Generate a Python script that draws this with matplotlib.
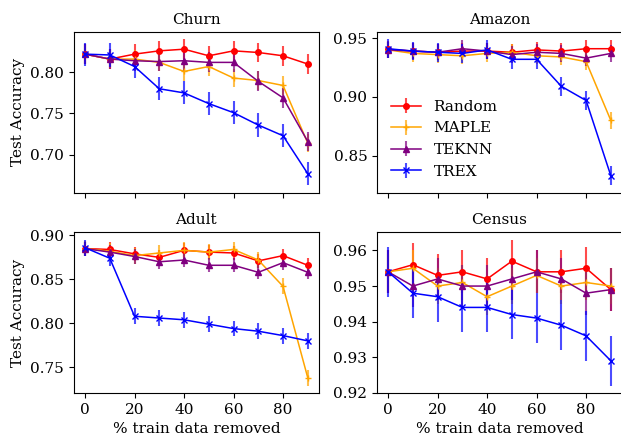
import matplotlib
matplotlib.use("Agg")
import matplotlib.pyplot as plt

plt.rcParams['font.family'] = 'DejaVu Serif'
plt.rcParams['font.size'] = 11

x = [0, 10, 20, 30, 40, 50, 60, 70, 80, 90]
methods = ["Random", "MAPLE", "TEKNN", "TREX"]
colors = ["red", "orange", "purple", "blue"]
markers = ["o", "+", "^", "x"]

churn_random = [0.822, 0.816, 0.822, 0.826, 0.828, 0.820, 0.826, 0.824, 0.820, 0.810]
churn_maple = [0.822, 0.816, 0.816, 0.812, 0.801, 0.807, 0.793, 0.790, 0.784, 0.714]
churn_teknn = [0.822, 0.816, 0.814, 0.813, 0.814, 0.812, 0.812, 0.789, 0.769, 0.716]
churn_trex = [0.822, 0.821, 0.807, 0.780, 0.775, 0.762, 0.751, 0.736, 0.723, 0.677]
churn_err = [0.012, 0.011, 0.012, 0.014]

amazon_random = [0.9405, 0.939, 0.938, 0.939, 0.939, 0.938, 0.940, 0.939, 0.941, 0.941]
amazon_maple = [0.940, 0.937, 0.936, 0.935, 0.937, 0.938, 0.935, 0.934, 0.930, 0.880]
amazon_teknn = [0.940, 0.939, 0.938, 0.941, 0.939, 0.936, 0.938, 0.937, 0.933, 0.937]
amazon_trex = [0.941, 0.939, 0.938, 0.937, 0.940, 0.932, 0.932, 0.909, 0.897, 0.833]
amazon_err = [0.007, 0.007, 0.007, 0.008]

adult_random = [0.885, 0.884, 0.879, 0.875, 0.883, 0.881, 0.880, 0.871, 0.877, 0.866]
adult_maple = [0.885, 0.882, 0.877, 0.880, 0.883, 0.881, 0.884, 0.872, 0.842, 0.738]
adult_teknn = [0.885, 0.881, 0.876, 0.870, 0.872, 0.866, 0.866, 0.858, 0.869, 0.858]
adult_trex = [0.886, 0.874, 0.808, 0.806, 0.804, 0.799, 0.794, 0.791, 0.786, 0.780]
adult_err = [0.008, 0.009, 0.008, 0.009]

census_random = [0.954, 0.956, 0.953, 0.954, 0.952, 0.957, 0.954, 0.954, 0.955, 0.949]
census_maple = [0.954, 0.955, 0.950, 0.951, 0.947, 0.950, 0.953, 0.950, 0.951, 0.950]
census_teknn = [0.954, 0.950, 0.952, 0.950, 0.950, 0.952, 0.954, 0.952, 0.948, 0.949]
census_trex = [0.954, 0.948, 0.947, 0.944, 0.944, 0.942, 0.941, 0.939, 0.936, 0.929]
census_err = [0.006, 0.005, 0.006, 0.007]

panels = [
    ("Churn", [churn_random, churn_maple, churn_teknn, churn_trex], churn_err),
    ("Amazon", [amazon_random, amazon_maple, amazon_teknn, amazon_trex], amazon_err),
    ("Adult", [adult_random, adult_maple, adult_teknn, adult_trex], adult_err),
    ("Census", [census_random, census_maple, census_teknn, census_trex], census_err),
]

fig, axes = plt.subplots(2, 2, figsize=(6.21, 4.36), dpi=100, sharex=True)
fig.subplots_adjust(left=0.119, right=1.0016, top=0.9266, bottom=0.0986,
                    wspace=0.237, hspace=0.249)

for ax, (name, series, errs) in zip(axes.flat, panels):
    for label, ys, err, c, m in zip(methods, series, errs, colors, markers):
        line, caps, bars = ax.errorbar(x, ys, yerr=err, color=c, marker=m,
                                       markersize=4, linewidth=1.1,
                                       elinewidth=1.5, label=label)
        for b in bars:
            b.set_alpha(0.7)
    ax.set_title(name, fontsize=11)

axes[0, 1].legend(loc="lower left", frameon=False, fontsize=11)
axes[0, 0].set_ylabel("Test Accuracy")
axes[1, 0].set_ylabel("Test Accuracy")
axes[1, 0].set_xlabel("% train data removed")
axes[1, 1].set_xlabel("% train data removed")
axes[1, 0].set_xticks([0, 20, 40, 60, 80])

plt.savefig("out.png", dpi=100)
